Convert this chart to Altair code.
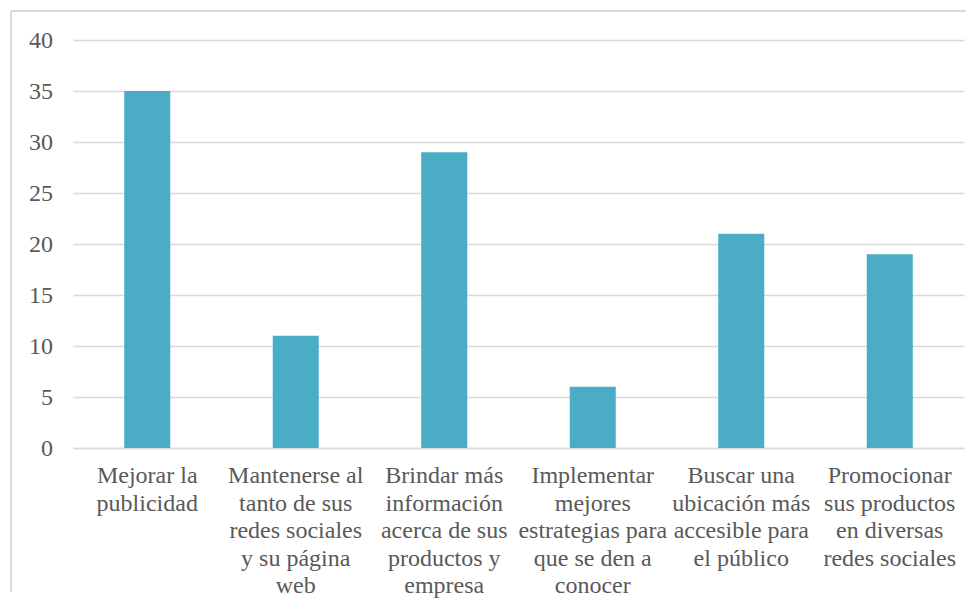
import altair as alt
import pandas as pd

categories = [
    "Mejorar la|publicidad",
    "Mantenerse al|tanto de sus|redes sociales|y su página|web",
    "Brindar más|información|acerca de sus|productos y|empresa",
    "Implementar|mejores|estrategias para|que se den a|conocer",
    "Buscar una|ubicación más|accesible para|el público",
    "Promocionar|sus productos|en diversas|redes sociales",
]
values = [35, 11, 29, 6, 21, 19]
y_ticks = [0, 5, 10, 15, 20, 25, 30, 35, 40]

df = pd.DataFrame({"cat": categories, "val": values})
tick_df = pd.DataFrame({"tick": y_ticks})

TXT = "#595959"

x_enc = alt.X(
    "cat:N",
    sort=categories,
    title=None,
    scale=alt.Scale(paddingInner=0.69, paddingOuter=0.345),
    axis=alt.Axis(
        labels=False,
        ticks=False,
        domain=True,
        domainColor="#d9d9d9",
        domainWidth=1.5,
    ),
)
y_scale = alt.Scale(domain=[0, 40], nice=False)

bars = alt.Chart(df).mark_bar(color="#4BACC6").encode(
    x=x_enc,
    y=alt.Y(
        "val:Q",
        title=None,
        scale=y_scale,
        axis=alt.Axis(
            values=y_ticks,
            labels=False,
            ticks=False,
            domain=False,
            grid=True,
            gridColor="#d9d9d9",
            gridWidth=1.5,
        ),
    ),
)

x_labels = alt.Chart(df).mark_text(
    font="Liberation Serif", fontSize=24, fill=TXT, lineBreak="|", lineHeight=27.6,
    align="center", baseline="alphabetic",
).encode(
    x=alt.X("cat:N", sort=categories),
    y=alt.value(443),
    text="cat:N",
)

y_labels = alt.Chart(tick_df).mark_text(
    font="Liberation Serif", fontSize=24, fill=TXT, align="right", baseline="middle", dy=1,
).encode(
    x=alt.value(-20),
    y=alt.Y("tick:Q", scale=y_scale),
    text="tick:Q",
)

top_line = alt.Chart(df).mark_rule(color="#d9d9d9", strokeWidth=1.5).encode(
    x=alt.value(-62), x2=alt.value(893), y=alt.value(-29)
)
left_line = alt.Chart(df).mark_rule(color="#d9d9d9", strokeWidth=1.5).encode(
    x=alt.value(-62), y=alt.value(-29), y2=alt.value(552)
)

chart = alt.layer(top_line, left_line, bars, x_labels, y_labels).properties(
    width=891,
    height=408,
    padding={"left": 2, "top": 2, "right": 0, "bottom": 0},
).configure_view(stroke=None)

chart.save("out.html", embed_options={"renderer": "svg", "actions": False})
